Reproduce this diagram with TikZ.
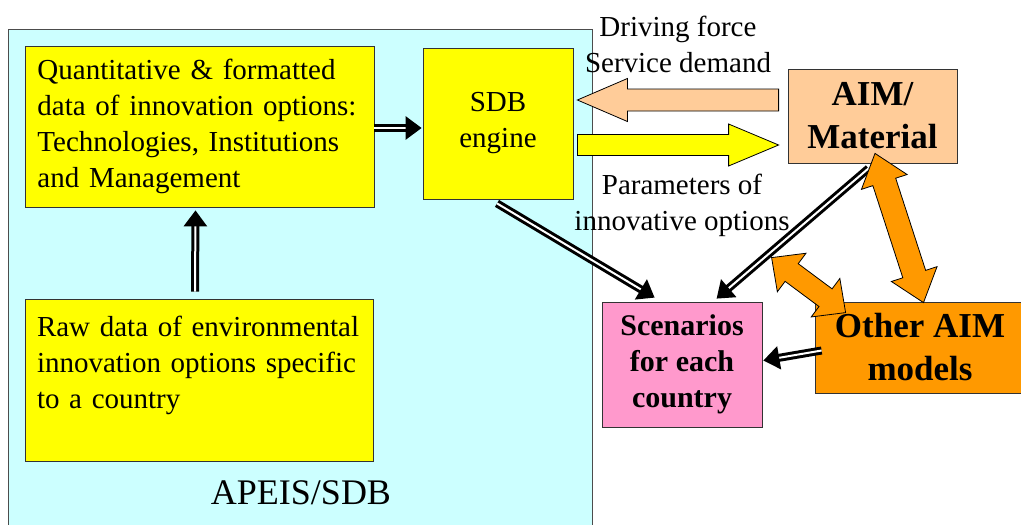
\documentclass[tikz,border=0pt]{standalone}
\usepackage{fontspec}
\setmainfont{Liberation Serif}
\usetikzlibrary{arrows.meta,calc}
\definecolor{panelcyan}{HTML}{CCFFFF}
\definecolor{boxyellow}{HTML}{FFFF00}
\definecolor{peach}{HTML}{FFCC99}
\definecolor{pink}{HTML}{FF99CC}
\definecolor{orange}{HTML}{FF9900}
\tikzset{
  box/.style={draw=black!80, line width=0.8pt, inner sep=0pt},
  txt/.style={font=\fontsize{29}{36}\selectfont},
  big/.style={font=\bfseries\fontsize{35}{43}\selectfont},
  mid/.style={font=\bfseries\fontsize{30}{36}\selectfont},
  dbl/.style={line width=3pt, double=white, double distance=2pt,
    -{Triangle[length=16pt,width=23pt]}},
}

\begin{document}
\begin{tikzpicture}[x=1pt,y=-1pt]
\newcommand\blockarrow[6]{% from, to, half body, half head, head length, colour
  \coordinate (h) at ($(#2)!#5!(#1)$);
  \draw[line width=0.8pt, fill=#6] ($(#1)!#3!90:(#2)$) -- ($(h)!#3!90:(#2)$)
    -- ($(h)!#4!90:(#2)$) -- (#2) -- ($(h)!#4!-90:(#2)$)
    -- ($(h)!#3!-90:(#2)$) -- ($(#1)!#3!-90:(#2)$) -- cycle;
}
\newcommand\dblockarrow[6]{% both ends with a head
  \coordinate (h1) at ($(#1)!#5!(#2)$);
  \coordinate (h2) at ($(#2)!#5!(#1)$);
  \draw[line width=0.8pt, fill=#6] (#1) -- ($(h1)!#4!90:(#2)$) -- ($(h1)!#3!90:(#2)$)
    -- ($(h2)!#3!90:(#2)$) -- ($(h2)!#4!90:(#2)$) -- (#2)
    -- ($(h2)!#4!-90:(#2)$) -- ($(h2)!#3!-90:(#2)$)
    -- ($(h1)!#3!-90:(#2)$) -- ($(h1)!#4!-90:(#2)$) -- cycle;
}
\useasboundingbox (0,0) rectangle (1021,525);

% APEIS/SDB panel
\draw[draw=black!70, line width=0.8pt, fill=panelcyan] (8,540) -- (8,29) -- (592,29) -- (592,540);
\node[font=\fontsize{36}{43}\selectfont] (apeis) at (301,493) {APEIS/SDB};

\node[box, fill=boxyellow, txt, text width=324pt, inner xsep=12.5pt, align=left,
  minimum height=161pt] (quant) at (199.5,126.5)
  {Quantitative \& formatted\\data of innovation options:\\Technologies, Institutions\\and Management};
\node[box, fill=boxyellow, txt, minimum width=150pt, minimum height=151pt, align=center]
  (sdb) at (498,123.5) {SDB\\engine};
\node[box, fill=boxyellow, txt, text width=324pt, inner xsep=12pt, align=left,
  minimum height=162pt] (raw) at (199,380)
  {Raw data of environmental\\innovation options specific\\to a country\\\mbox{}};

\node[box, fill=peach, big, minimum width=169pt, minimum height=94pt, align=center]
  (aim) at (872.5,116) {AIM/\\Material};
\node[box, fill=pink, mid, minimum width=160pt, minimum height=125pt, align=center]
  (scen) at (682,364.5) {Scenarios\\for each\\country};
\node[box, fill=orange, big, minimum width=210pt, minimum height=91pt, align=center]
  (other) at (920,347.5) {Other AIM\\models};

\node[txt, align=center] (drive) at (678,44) {Driving force\\Service demand};
\node[txt, align=center] (param) at (682,205) {Parameters of\\innovative options};

% double-lined arrows
\draw[dbl] ([shift={(0,1.5)}]quant.east) -- ([shift={(-1,4.5)}]sdb.west);
\draw[dbl] ([shift={(-4,-7)}]raw.north) -- ([shift={(-4,3)}]quant.south);
\draw[dbl] ([shift={(-1,4)}]sdb.south) -- ([shift={(53,-4)}]scen.north west);
\draw[dbl] ([shift={(-4,5)}]aim.south) -- ([shift={(115,-3)}]scen.north west);
\draw[dbl] ([shift={(7,3)}]other.west) -- ([shift={(1,-4)}]scen.east);

% block arrows
\coordinate (dfA) at ([shift={(-9,-16)}]aim.west);
\coordinate (dfB) at ([shift={(4,-23.5)}]sdb.east);
\coordinate (pmA) at ([shift={(4,21.5)}]sdb.east);
\coordinate (pmB) at ([shift={(-9,29)}]aim.west);
\coordinate (oa1) at ([shift={(2.5,-10)}]aim.south);
\coordinate (oa2) at ([shift={(3.5,1)}]other.north);
\coordinate (ob1) at ([shift={(-43,-44)}]other.north west);
\coordinate (ob2) at ([shift={(31,11)}]other.north west);
\blockarrow{dfA}{dfB}{11pt}{21.5pt}{50pt}{peach}
\blockarrow{pmA}{pmB}{10.5pt}{21pt}{50pt}{boxyellow}
\dblockarrow{oa1}{oa2}{12pt}{24pt}{30pt}{orange}
\dblockarrow{ob1}{ob2}{11pt}{24pt}{25pt}{orange}
\end{tikzpicture}
\end{document}
